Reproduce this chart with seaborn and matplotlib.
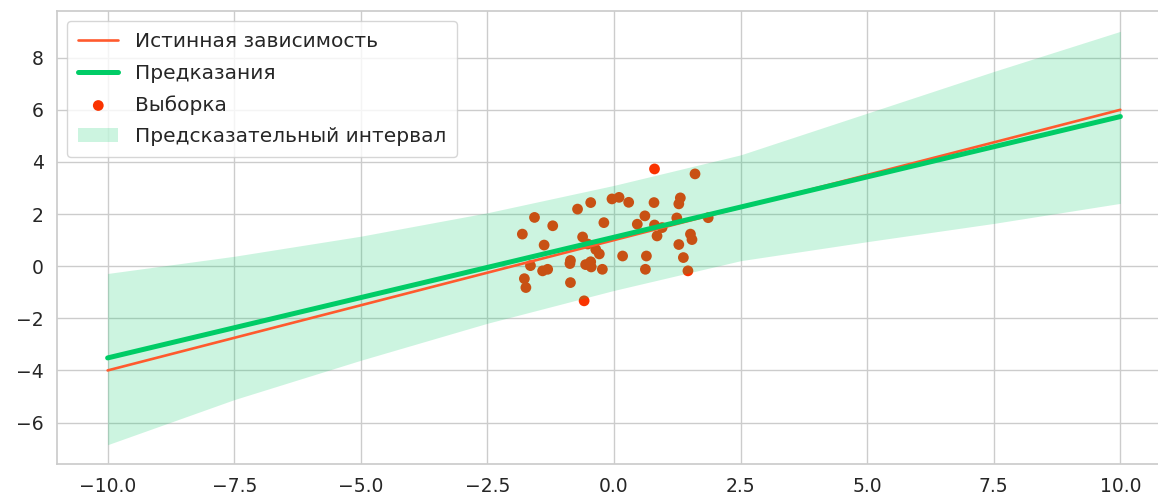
import matplotlib
matplotlib.use("Agg")
import matplotlib.pyplot as plt
import seaborn as sns
import numpy as np
import pandas as pd

# ---- data ----
line_x = [-10.0, 10.0]
true_y = [-4.0, 6.0]
pred_y = [-3.52, 5.74]

band_x = [-10.0, -7.5, -5.0, -2.5, 0.0, 2.5, 5.0, 7.5, 10.0]
band_upper = [-0.28, 0.38, 1.15, 2.05, 3.10, 4.27, 5.87, 7.47, 9.01]
band_lower = [-6.85, -5.12, -3.61, -2.19, -0.93, 0.21, 0.94, 1.64, 2.41]

sample_x = [-1.81, -1.77, -1.74, -1.65, -1.57, -1.41, -1.31, -1.38, -1.21,
            -0.86, -0.87, -0.86, -0.72, -0.62, -0.59, -0.56, -0.52, -0.46,
            -0.46, -0.45, -0.36, -0.29, -0.23, -0.20, -0.04, 0.10, 0.29,
            0.17, 0.46, 0.61, 0.64, 0.62, 0.80, 0.79, 0.80, 0.95, 0.85,
            1.24, 1.28, 1.31, 1.28, 1.37, 1.46, 1.51, 1.54, 1.60, 1.86]
sample_y = [1.23, -0.48, -0.82, 0.02, 1.87, -0.18, -0.12, 0.81, 1.55,
            0.22, 0.10, -0.63, 2.19, 1.12, -1.33, 0.06, 0.85, 2.44,
            0.17, -0.03, 0.64, 0.47, -0.12, 1.67, 2.58, 2.64, 2.45,
            0.39, 1.61, 1.93, 0.39, -0.12, 3.73, 2.44, 1.58, 1.48, 1.16,
            1.85, 2.39, 2.62, 0.83, 0.33, -0.18, 1.23, 1.02, 3.54, 1.86]

labels = ["Истинная зависимость", "Предказания", "Выборка",
          "Предсказательный интервал"]

# ---- styling ----
sns.set_theme(style="whitegrid")
plt.rcParams['font.family'] = ['DejaVu Sans']

red_line = "#ff5a2e"
green = "#00cc66"
red_pts = "#fa3300"

fig = plt.figure(figsize=(11.58, 4.99), dpi=100)
ax = fig.add_axes([57 / 1158, 35 / 499, 1114 / 1158, 453 / 499])

lines_df = pd.DataFrame({"x": line_x, "true": true_y, "pred": pred_y})
samples_df = pd.DataFrame({"x": sample_x, "y": sample_y})

sns.lineplot(data=lines_df, x="x", y="true", ax=ax, color=red_line,
             linewidth=1.9, label=labels[0], zorder=4)
sns.lineplot(data=lines_df, x="x", y="pred", ax=ax, color=green,
             linewidth=3.6, label=labels[1], zorder=5)
sns.scatterplot(data=samples_df, x="x", y="y", ax=ax, color=red_pts,
                s=60, edgecolor="none", linewidth=0, label=labels[2],
                zorder=2)
ax.fill_between(band_x, band_lower, band_upper, color=green, alpha=0.2,
                linewidth=0, label=labels[3], zorder=3)

ax.set_xlim(-11, 11)
ax.set_ylim(-7.59, 9.79)
ax.set_xticks([-10, -7.5, -5, -2.5, 0, 2.5, 5, 7.5, 10])
ax.set_yticks([-6, -4, -2, 0, 2, 4, 6, 8])
ax.set_xlabel("")
ax.set_ylabel("")
ax.tick_params(labelsize=13.5, colors=".15")

leg = ax.legend(loc="upper left", fontsize=14.5, labelspacing=0.62,
                borderpad=0.55)

fig.savefig("out.png", dpi=100)
